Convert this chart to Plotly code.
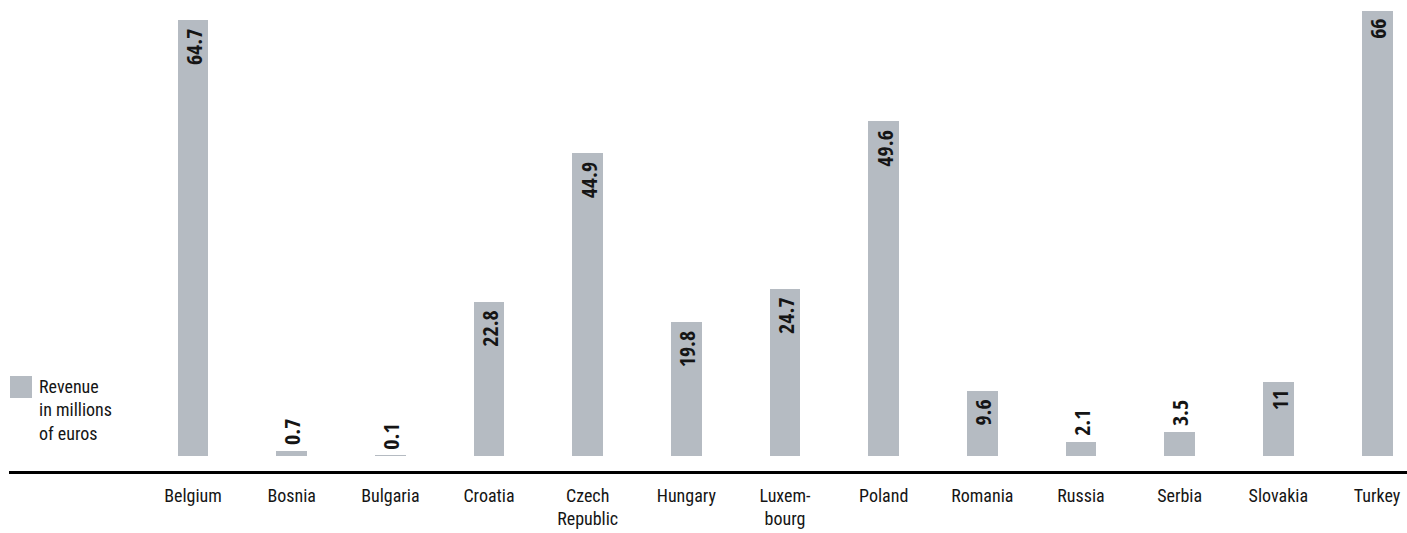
import plotly.graph_objects as go

categories = ["Belgium", "Bosnia", "Bulgaria", "Croatia", "Czech<br>Republic", "Hungary",
              "Luxem-<br>bourg", "Poland", "Romania", "Russia", "Serbia", "Slovakia", "Turkey"]
revenue = [64.7, 0.7, 0.1, 22.8, 44.9, 19.8, 24.7, 49.6, 9.6, 2.1, 3.5, 11, 66]
value_labels = ["64.7", "0.7", "0.1", "22.8", "44.9", "19.8", "24.7", "49.6", "9.6", "2.1", "3.5", "11", "66"]
legend_text = "Revenue<br>in millions<br>of euros"

FONT = "Roboto Condensed, DejaVu Sans Condensed, Liberation Sans, sans-serif"
VFONT = "Open Sans Condensed, Roboto Condensed, DejaVu Sans Condensed, sans-serif"
BAR_COLOR = "#b5bbc2"
TEXT_COLOR = "#151515"

W, H = 1407, 533
L, B = 9, 62
PW, PH = W - L, H - B

fig = go.Figure()
fig.add_trace(go.Bar(
    x=categories, y=revenue, width=0.314,
    marker=dict(color=BAR_COLOR, line=dict(width=0)),
    showlegend=False, hoverinfo="skip",
))

for cat, v, lab in zip(categories, revenue, value_labels):
    inside = v >= 9
    fig.add_annotation(
        x=cat, y=v, xref="x", yref="y", text=f"<b>{lab}</b>", showarrow=False,
        textangle=-90, xanchor="center",
        yanchor="top" if inside else "bottom",
        yshift=-6 if inside else 4,
        font=dict(family=VFONT, size=22, color=TEXT_COLOR, weight="bold"),
    )

fig.add_shape(type="rect", xref="paper", yref="paper",
              x0=(10 - L)/PW, x1=(32 - L)/PW, y0=(PH - 398)/PH, y1=(PH - 376)/PH,
              fillcolor=BAR_COLOR, line=dict(width=0))
fig.add_annotation(xref="paper", yref="paper", x=(37 - L)/PW, y=(PH - 374)/PH,
                   xanchor="left", yanchor="top", align="left", showarrow=False,
                   text=legend_text, font=dict(family=FONT, size=18, color=TEXT_COLOR))

fig.update_layout(
    width=W, height=H,
    margin=dict(l=L, r=0, t=0, b=B, autoexpand=False),
    paper_bgcolor="white", plot_bgcolor="white",
    bargap=0,
    xaxis=dict(
        type="category", range=[-1.956 + L/98.67, 12.304], automargin=False,
        showline=True, linecolor="black", linewidth=3,
        showgrid=False, zeroline=False, ticks="",
        tickfont=dict(family=FONT, size=18, color=TEXT_COLOR),
        ticklabelstandoff=6,
    ),
    yaxis=dict(range=[-2.224, 67.61], visible=False, showgrid=False, zeroline=False,
               automargin=False),
)

fig.write_html("out.html", config={"displayModeBar": False},
               post_script="document.body.style.margin='0px';document.body.style.overflow='hidden';")
